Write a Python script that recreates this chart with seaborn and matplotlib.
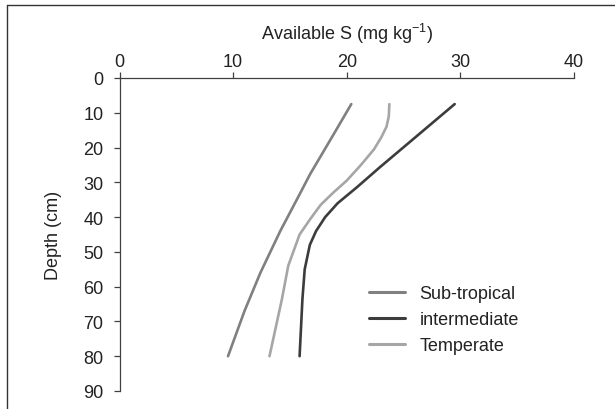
import matplotlib
matplotlib.use("Agg")
import matplotlib.pyplot as plt
from matplotlib.lines import Line2D
import seaborn as sns
import pandas as pd

# ---- data ----
zones = ["Sub-tropical", "intermediate", "Temperate"]
sub_depth = [7.5, 17, 27.5, 35, 44, 56, 67, 80]
sub_s = [20.4, 18.7, 16.8, 15.6, 14.15, 12.4, 11.0, 9.55]
int_depth = [7.5, 25.7, 31.4, 36, 40, 44, 48, 55, 63.5, 80]
int_s = [29.5, 22.9, 20.9, 19.2, 18.1, 17.3, 16.75, 16.3, 16.1, 15.85]
tem_depth = [7.5, 11, 14, 17, 20.5, 25, 29.5, 33, 36.5, 40.5, 45, 54, 63.5, 80]
tem_s = [23.75, 23.7, 23.5, 23.05, 22.4, 21.25, 20.0, 18.8, 17.7, 16.8, 15.85, 14.85, 14.3, 13.2]
x_ticks = [0, 10, 20, 30, 40]
y_ticks = [0, 10, 20, 30, 40, 50, 60, 70, 80, 90]

colors = {"Sub-tropical": "#808080", "intermediate": "#3c3c3c", "Temperate": "#a6a6a6"}

rows = []
for z, d, s in [(zones[0], sub_depth, sub_s), (zones[1], int_depth, int_s), (zones[2], tem_depth, tem_s)]:
    for dd, ss in zip(d, s):
        rows.append({"zone": z, "depth": dd, "S": ss})
df = pd.DataFrame(rows)

sns.set_style("white")
plt.rcParams["font.family"] = ["Liberation Sans", "DejaVu Sans"]
plt.rcParams["mathtext.fontset"] = "custom"
plt.rcParams["mathtext.rm"] = "Liberation Sans"
plt.rcParams["mathtext.it"] = "Liberation Sans:italic"

fs = 13
fig = plt.figure(figsize=(6.15, 4.10), dpi=100)
ax = fig.add_axes([119.5 / 615, 1 - 392 / 410, (574 - 119.5) / 615, (392 - 79) / 410])

sns.lineplot(data=df, x="S", y="depth", hue="zone", hue_order=zones, palette=colors,
             sort=False, estimator=None, units="zone", linewidth=1.9, ax=ax, legend=False)

ax.set_xlim(0, 40)
ax.set_ylim(90, 0)
ax.set_xticks(x_ticks)
ax.set_yticks(y_ticks)
ax.xaxis.tick_top()
ax.xaxis.set_label_position("top")
for side in ["right", "bottom"]:
    ax.spines[side].set_visible(False)
for side in ["left", "top"]:
    ax.spines[side].set_color("#404040")
    ax.spines[side].set_linewidth(0.9)
ax.tick_params(axis="both", direction="out", length=4.5, width=0.9, color="#404040",
               labelsize=fs, labelcolor="#222222")
ax.tick_params(axis="x", pad=1, top=True, bottom=False)
ax.tick_params(axis="y", pad=7, left=True)
ax.set_xlabel("Available S (mg kg$^{-1}$)", fontsize=fs, color="#222222", labelpad=10)
ax.set_ylabel("Depth (cm)", fontsize=fs, color="#222222", labelpad=15)

handles = [Line2D([], [], color=colors[z], lw=2.2) for z in zones]
fig.legend(handles, zones, loc="center left", bbox_to_anchor=(369 / 615, 1 - 320.7 / 410),
           frameon=False, fontsize=fs, handlelength=2.0, handletextpad=0.8,
           labelspacing=0.5, borderpad=0, borderaxespad=0, labelcolor="#222222")

# outer frame (top and left edges visible in reference)
fig.add_artist(Line2D([7 / 615, 1], [1 - 6 / 410, 1 - 6 / 410], transform=fig.transFigure,
                      color="#333333", lw=1.0))
fig.add_artist(Line2D([7 / 615, 7 / 615], [0, 1 - 6 / 410], transform=fig.transFigure,
                      color="#333333", lw=1.0))

fig.savefig("out.png", dpi=100)
